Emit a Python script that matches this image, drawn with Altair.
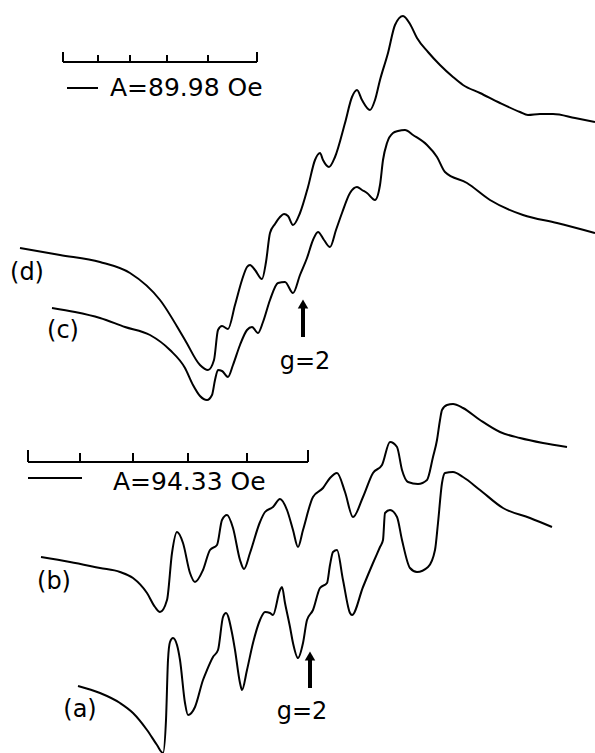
import altair as alt
import pandas as pd

W, H = 595, 753

# ---- spectra (pixel-space coordinates) ----
d_x = [20, 60, 100, 130, 160, 185, 200, 208, 214, 218, 222, 228, 235, 242, 247, 250, 255, 262, 266, 270, 275, 280, 284, 288, 293, 300, 308, 315, 320, 323, 329, 335, 345, 352, 357, 362, 370, 375, 380, 388, 395, 403, 410, 417, 428, 440, 453, 463, 480, 500, 520, 528, 540, 553, 575, 595]
d_y = [248, 255, 262, 273, 300, 340, 365, 370, 360, 330, 326, 329, 305, 280, 267, 265, 270, 279, 262, 233, 224, 217, 214, 216, 225, 213, 187, 160, 153, 160, 167, 157, 123, 97, 90, 100, 110, 100, 80, 53, 25, 16, 24, 38, 52, 65, 77, 85, 93, 103, 112, 115, 114, 114, 118, 122]

c_x = [52, 75, 100, 125, 150, 170, 185, 193, 200, 207, 212, 215, 218, 222, 228, 233, 240, 247, 252, 258, 263, 270, 278, 285, 293, 300, 307, 313, 318, 324, 330, 336, 342, 350, 357, 362, 367, 375, 380, 383, 387, 393, 398, 405, 413, 427, 437, 445, 467, 490, 523, 557, 595]
c_y = [308, 312, 318, 327, 335, 350, 368, 385, 396, 400, 395, 380, 370, 371, 377, 365, 345, 330, 327, 333, 322, 300, 283, 282, 293, 275, 258, 240, 232, 240, 247, 230, 213, 193, 187, 190, 193, 200, 185, 160, 143, 133, 131, 130, 135, 145, 157, 172, 183, 200, 215, 223, 233]

b_x = [41, 70, 100, 120, 133, 147, 155, 160, 167, 172, 177, 183, 190, 195, 203, 210, 217, 222, 227, 233, 240, 244, 250, 260, 265, 273, 280, 287, 293, 298, 303, 313, 323, 330, 337, 345, 353, 363, 373, 382, 390, 397, 402, 408, 418, 427, 433, 437, 440, 442, 447, 453, 463, 480, 500, 520, 543, 567]
b_y = [557, 562, 568, 572, 578, 593, 607, 612, 600, 553, 532, 543, 573, 582, 570, 550, 545, 520, 515, 528, 560, 569, 553, 522, 512, 507, 499, 510, 530, 547, 530, 497, 488, 478, 473, 492, 517, 497, 473, 465, 442, 447, 470, 482, 484, 480, 457, 440, 420, 410, 405, 404, 408, 420, 432, 438, 443, 447]

a_x = [78, 100, 120, 133, 147, 157, 163, 166, 168, 170, 173, 177, 180, 185, 188, 195, 203, 207, 213, 218, 223, 226, 232, 235, 240, 242, 247, 253, 260, 265, 270, 273, 280, 282, 285, 290, 293, 298, 303, 307, 313, 320, 327, 330, 333, 337, 343, 350, 352, 363, 373, 380, 383, 385, 390, 397, 402, 410, 417, 428, 435, 438, 442, 445, 453, 463, 480, 503, 530, 552]
a_y = [686, 693, 703, 713, 730, 745, 753, 720, 660, 642, 638, 645, 660, 703, 715, 707, 680, 670, 657, 650, 617, 613, 633, 650, 683, 690, 670, 643, 620, 612, 613, 615, 590, 587, 603, 627, 643, 658, 643, 620, 610, 588, 583, 565, 552, 550, 580, 613, 615, 587, 563, 547, 540, 513, 510, 517, 540, 568, 572, 567, 550, 523, 483, 473, 472, 477, 490, 508, 518, 527]

# ---- scale bars ----
top_bar_ticks = [63, 98, 130, 167, 208, 257]
top_bar_y = 62
top_tick_tops = [52, 55, 55, 55, 55, 52]
bot_bar_ticks = [28, 80, 133, 188, 247, 308]
bot_bar_y = 462
bot_tick_tops = [450, 453, 453, 453, 453, 450]
dash_x1 = [67, 28]
dash_x2 = [98, 82]
dash_y = [88, 478]

# ---- labels ----
lab_text = ["(d)", "(c)", "(b)", "(a)", "g=2", "g=2"]
lab_x = [27, 63, 54, 80, 305, 302]
lab_y = [273, 331, 582, 710, 362, 712]
bar_text = ["A=89.98 Oe", "A=94.33 Oe"]
bar_text_x = [110, 113]
bar_text_y = [88, 482]

# ---- g=2 arrows ----
arrow_x = [303, 310]
arrow_tip = [298, 650]
arrow_base = [337, 688]

rows = []
for name, xs, ys in [("d", d_x, d_y), ("c", c_x, c_y), ("b", b_x, b_y), ("a", a_x, a_y)]:
    for i, (xv, yv) in enumerate(zip(xs, ys)):
        rows.append({"s": name, "x": xv, "y": yv, "o": i})
curves = pd.DataFrame(rows)

segs = []
segs.append({"x": top_bar_ticks[0], "x2": top_bar_ticks[-1], "y": top_bar_y, "y2": top_bar_y})
for t, tt in zip(top_bar_ticks, top_tick_tops):
    segs.append({"x": t, "x2": t, "y": top_bar_y, "y2": tt})
segs.append({"x": bot_bar_ticks[0], "x2": bot_bar_ticks[-1], "y": bot_bar_y, "y2": bot_bar_y})
for t, tt in zip(bot_bar_ticks, bot_tick_tops):
    segs.append({"x": t, "x2": t, "y": bot_bar_y, "y2": tt})
for a1, a2, yy in zip(dash_x1, dash_x2, dash_y):
    segs.append({"x": a1, "x2": a2, "y": yy, "y2": yy})
segs = pd.DataFrame(segs)

shafts = pd.DataFrame({"x": arrow_x, "x2": arrow_x, "y": [t + 9 for t in arrow_tip], "y2": arrow_base})
heads = pd.DataFrame({"x": arrow_x, "y": [t + 6 for t in arrow_tip]})

labels = pd.DataFrame({"t": lab_text, "x": lab_x, "y": lab_y})
bartexts = pd.DataFrame({"t": bar_text, "x": bar_text_x, "y": bar_text_y})

xs = alt.Scale(domain=[0, W], nice=False, zero=False)
ys = alt.Scale(domain=[0, H], nice=False, zero=False, reverse=True)

X = lambda f="x": alt.X(f"{f}:Q", scale=xs, axis=None)
Y = lambda f="y": alt.Y(f"{f}:Q", scale=ys, axis=None)

lines = alt.Chart(curves).mark_line(color="black", strokeWidth=2, interpolate="monotone").encode(
    x=X(), y=Y(), detail="s:N", order="o:Q"
)
rules = alt.Chart(segs).mark_rule(color="black", strokeWidth=2).encode(
    x=X(), x2="x2:Q", y=Y(), y2="y2:Q"
)
shaft = alt.Chart(shafts).mark_rule(color="black", strokeWidth=4).encode(
    x=X(), x2="x2:Q", y=Y(), y2="y2:Q"
)
head = alt.Chart(heads).mark_point(shape="triangle-up", filled=True, color="black", size=110, opacity=1).encode(
    x=X(), y=Y()
)
labs = alt.Chart(labels).mark_text(font="DejaVu Sans", fontSize=24, color="black", align="center", baseline="middle").encode(
    x=X(), y=Y(), text="t:N"
)
btxt = alt.Chart(bartexts).mark_text(font="DejaVu Sans", fontSize=25, color="black", align="left", baseline="middle").encode(
    x=X(), y=Y(), text="t:N"
)

chart = alt.layer(lines, rules, shaft, head, labs, btxt).properties(
    width=W, height=H, padding=0, autosize=alt.AutoSizeParams(type="none"),
    background="white"
).configure_view(stroke=None)

chart.save("out.html", embed_options={"renderer": "svg", "actions": False})
